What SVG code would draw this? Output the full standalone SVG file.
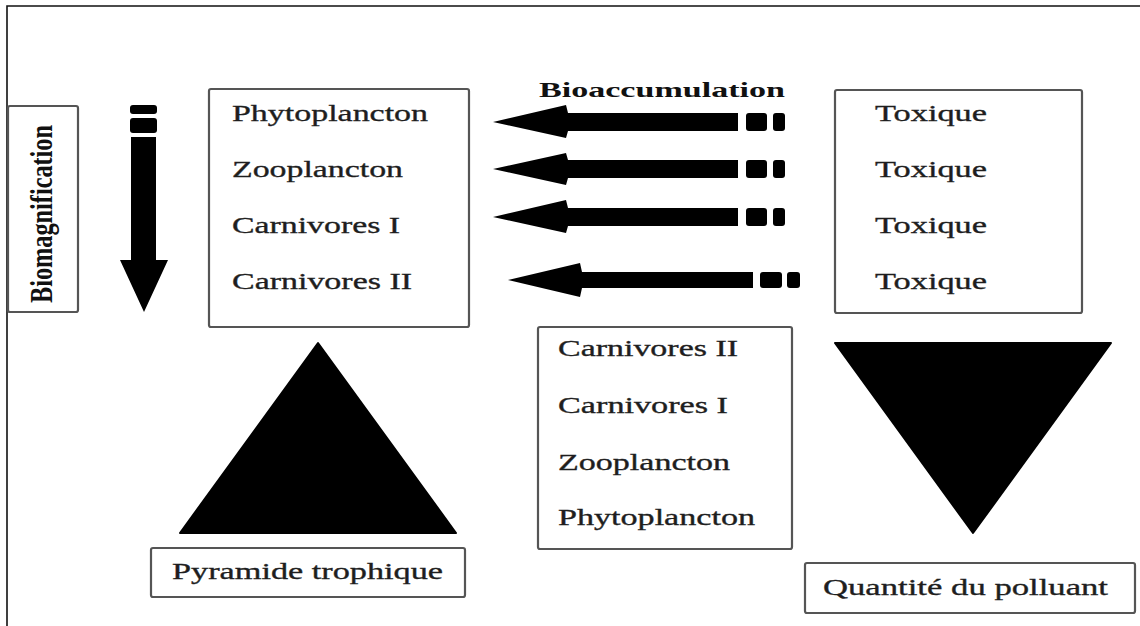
<svg xmlns="http://www.w3.org/2000/svg" width="1140" height="626" viewBox="0 0 1140 626">
<style>
.box{fill:#fff;stroke:#555;stroke-width:2.2}
.t{font-family:"Liberation Serif","Times New Roman",serif;font-size:24px;fill:#1e1e1e;stroke:#1e1e1e;stroke-width:0.35}
.b{font-family:"Liberation Serif","Times New Roman",serif;font-weight:bold;fill:#111}
.fill{fill:#000}
</style>
<rect width="1140" height="626" fill="#fff"/>
<g id="frame"><path d="M7 626 V6 H1140" fill="none" stroke="#111" stroke-width="1.6"/></g>

<g id="biomagnification-label">
<rect class="box" x="8" y="106" width="70" height="206" rx="2"/>
<text class="b" font-size="32" transform="translate(52,214) rotate(-90)" text-anchor="middle" textLength="178" lengthAdjust="spacingAndGlyphs">Biomagnification</text>
</g>

<g id="food-chain-box">
<rect class="box" x="209" y="89" width="260" height="238" rx="2"/>
<text class="t" x="232" y="121" textLength="196" lengthAdjust="spacingAndGlyphs">Phytoplancton</text>
<text class="t" x="232" y="177" textLength="171" lengthAdjust="spacingAndGlyphs">Zooplancton</text>
<text class="t" x="232" y="233" textLength="168" lengthAdjust="spacingAndGlyphs">Carnivores I</text>
<text class="t" x="232" y="289" textLength="180" lengthAdjust="spacingAndGlyphs">Carnivores II</text>
</g>

<g id="toxique-box">
<rect class="box" x="835" y="90" width="247" height="223" rx="2"/>
<text class="t" x="875" y="121" textLength="112" lengthAdjust="spacingAndGlyphs">Toxique</text>
<text class="t" x="875" y="177" textLength="112" lengthAdjust="spacingAndGlyphs">Toxique</text>
<text class="t" x="875" y="233" textLength="112" lengthAdjust="spacingAndGlyphs">Toxique</text>
<text class="t" x="875" y="289" textLength="112" lengthAdjust="spacingAndGlyphs">Toxique</text>
</g>

<g id="reverse-chain-box">
<rect class="box" x="538" y="327" width="254" height="222" rx="2"/>
<text class="t" x="558" y="356" textLength="180" lengthAdjust="spacingAndGlyphs">Carnivores II</text>
<text class="t" x="558" y="413" textLength="170" lengthAdjust="spacingAndGlyphs">Carnivores I</text>
<text class="t" x="558" y="470" textLength="172" lengthAdjust="spacingAndGlyphs">Zooplancton</text>
<text class="t" x="558" y="525" textLength="197" lengthAdjust="spacingAndGlyphs">Phytoplancton</text>
</g>

<g id="pyramid">
<polygon class="fill" points="318,343 456,533 180,533" stroke="#000" stroke-width="2" stroke-linejoin="round"/>
</g>
<g id="pyramid-label">
<rect class="box" x="151" y="548" width="314" height="49" rx="2"/>
<text class="t" x="172" y="579" textLength="271" lengthAdjust="spacingAndGlyphs">Pyramide trophique</text>
</g>

<g id="pollutant-triangle">
<polygon class="fill" points="835,343 1111,343 973,533" stroke="#000" stroke-width="2" stroke-linejoin="round"/>
</g>
<g id="pollutant-label">
<rect class="box" x="805" y="563" width="330" height="50" rx="2"/>
<text class="t" x="823" y="595" textLength="285" lengthAdjust="spacingAndGlyphs">Quantité du polluant</text>
</g>

<g id="bioaccumulation-label">
<text class="b" font-size="21" x="539" y="97" textLength="246" lengthAdjust="spacingAndGlyphs">Bioaccumulation</text>
</g>

<g id="connectors" fill="#000">
<rect x="130" y="105" width="27" height="9" rx="3"/>
<rect x="130" y="118" width="27" height="15" rx="3"/>
<path d="M131 137 H156 V260 H168 L144 312 L120 260 H131 Z" stroke-linejoin="round"/>
<path d="M493 122 L566 105 L568 113 H738 V131 H568 L566 138 Z"/>
<rect x="746" y="113" width="21" height="18" rx="3"/>
<rect x="773" y="113" width="12" height="18" rx="3"/>
<path d="M493 169 L566 153 L568 160 H738 V178 H568 L566 185 Z"/>
<rect x="746" y="160" width="21" height="18" rx="3"/>
<rect x="773" y="160" width="12" height="18" rx="3"/>
<path d="M493 217 L566 200 L568 208 H738 V226 H568 L566 233 Z"/>
<rect x="746" y="208" width="21" height="18" rx="3"/>
<rect x="773" y="208" width="12" height="18" rx="3"/>
<path d="M508 280 L580 263 L582 272 H753 V288 H582 L580 297 Z"/>
<rect x="760" y="272" width="22" height="16" rx="3"/>
<rect x="787" y="272" width="13" height="16" rx="3"/>
</g>
</svg>
